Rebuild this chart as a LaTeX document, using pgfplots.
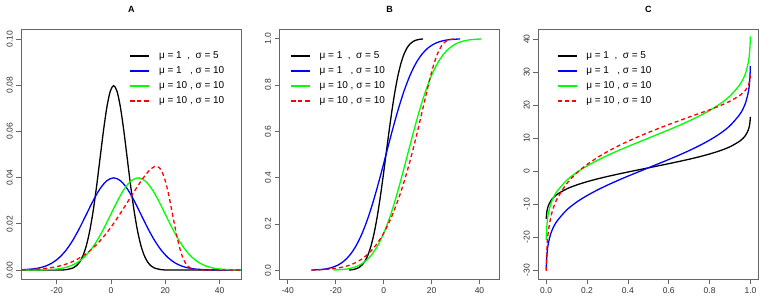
\documentclass[border=0pt]{standalone}
\usepackage{fontspec}
\setmainfont{Liberation Sans}
\usepackage{pgfplots}
\pgfplotsset{compat=1.18}
\definecolor{rgreen}{RGB}{0,255,0}
\definecolor{rblue}{RGB}{0,0,255}
\definecolor{rred}{RGB}{255,0,0}
\begin{document}
\begin{tikzpicture}
\path (0pt,0pt) rectangle (775pt,305pt);
\pgfplotsset{
  panel/.style={
    scale only axis, width=220pt, height=249.6pt,
    axis line style={black!60, line width=0.7pt},
    tick align=outside, major tick length=5pt,
    tick style={black!60, line width=0.7pt},
    xtick pos=bottom, ytick pos=left,
    tick label style={font=\fontsize{8.5}{10}\selectfont, text=black!80},
    /pgf/number format/assume math mode=true,
    yticklabel style={rotate=90, anchor=south},
    title style={at={(0.5,1)}, anchor=center, yshift=14pt, font=\bfseries\fontsize{9}{10}\selectfont},
    legend style={draw=none, fill=none, font=\fontsize{10}{12}\selectfont, legend cell align=left,
      anchor=north west, inner sep=0pt, row sep=3.5pt, nodes={inner sep=1pt, text height=7.5pt, text depth=2pt},
      /tikz/every odd column/.append style={column sep=8pt}},
    legend image code/.code={\draw[#1] plot coordinates {(0pt,0pt) (9.5pt,0pt) (19pt,0pt)};},
    legend image post style={line width=1.5pt},
    every axis plot/.append style={line width=1.3pt},
  },
}
% ---------------- A ----------------
\begin{axis}[panel, at={(21.3pt,25.7pt)}, anchor=south west, title={A},
  xmin=-33, xmax=48, ymin=-0.004, ymax=0.104,
  xtick={-20,0,20,40}, ytick={0,0.02,0.04,0.06,0.08,0.1},
  yticklabel style={/pgf/number format/fixed, /pgf/number format/fixed zerofill, /pgf/number format/precision=2},
  legend style={at={(axis description cs:0.491,0.918)}}]
\addplot[color=black, smooth] table {
-33 0
-24 0.000001
-19 0.000027
-16.5 0.000175
-14 0.000886
-12.75 0.001818
-11.5 0.003506
-10.25 0.006348
-9 0.010798
-7.75 0.017255
-6.5 0.025904
-5.25 0.036530
-4 0.048394
-2.75 0.060227
-1.5 0.070413
-0.25 0.077334
1 0.079788
2.25 0.077334
3.5 0.070413
4.75 0.060227
6 0.048394
7.25 0.036530
8.5 0.025904
9.75 0.017255
11 0.010798
12.25 0.006348
13.5 0.003506
14.75 0.001818
16 0.000886
18.5 0.000175
21 0.000027
26 0.000001
48 0
};
\addplot[color=rblue, smooth] table {
-33 0.000123
-29 0.000443
-26.5 0.000909
-24 0.001753
-21.5 0.003174
-19 0.005399
-16.5 0.008628
-14 0.012952
-11.5 0.018265
-9 0.024197
-6.5 0.030114
-4 0.035207
-1.5 0.038667
1 0.039894
3.5 0.038667
6 0.035207
8.5 0.030114
11 0.024197
13.5 0.018265
16 0.012952
18.5 0.008628
21 0.005399
23.5 0.003174
26 0.001753
28.5 0.000909
31 0.000443
36 0.000087
41 0.000013
48 0.000001
};
\addplot[color=rgreen, smooth] table {
-33 0.000004
-30 0.000013
-25 0.000087
-20 0.000443
-17.5 0.000909
-15 0.001753
-12.5 0.003174
-10 0.005399
-7.5 0.008628
-5 0.012952
-2.5 0.018265
0 0.024197
2.5 0.030114
5 0.035207
7.5 0.038667
10 0.039894
12.5 0.038667
15 0.035207
17.5 0.030114
20 0.024197
22.5 0.018265
25 0.012952
27.5 0.008628
30 0.005399
32.5 0.003174
35 0.001753
37.5 0.000909
40 0.000443
45 0.000087
48 0.000029
};
\addplot[color=rred, dash pattern=on 4pt off 3pt, smooth] table {
-35.24 0.000076
-32.03 0.000153
-28.82 0.000296
-25.61 0.000552
-22.40 0.000986
-19.19 0.001691
-15.97 0.002789
-12.76 0.004418
-9.55 0.006725
-7.95 0.008173
-6.34 0.009834
-4.73 0.011714
-3.13 0.013816
-1.52 0.016133
0.08 0.018650
1.69 0.021345
3.29 0.024188
4.90 0.027135
6.51 0.030139
8.11 0.033143
9.72 0.036082
11.32 0.038884
12.93 0.041449
14.53 0.043580
16.14 0.044827
16.94 0.044866
17.75 0.044331
18.55 0.043074
19.35 0.040979
20.15 0.038000
20.96 0.034188
21.76 0.029713
22.56 0.024845
23.37 0.019915
24.17 0.015255
24.97 0.011135
25.77 0.007728
26.58 0.005088
27.38 0.003173
28.18 0.001872
28.99 0.001044
29.79 0.000549
30.59 0.000272
32.20 0.000056
33.80 0.000009
40 0
48 0
};
\legend{{μ = 1\ \ ,\ \ σ = 5}, {μ = 1\ \ \ , σ = 10}, {μ = 10 , σ = 10}, {μ = 10 , σ = 10}}
\end{axis}
% ---------------- B ----------------
\begin{axis}[panel, at={(279.6pt,25.7pt)}, anchor=south west, title={B},
  xmin=-43.4, xmax=48.4, ymin=-0.039, ymax=1.039,
  xtick={-40,-20,0,20,40}, ytick={0,0.2,0.4,0.6,0.8,1},
  yticklabel style={/pgf/number format/fixed, /pgf/number format/fixed zerofill, /pgf/number format/precision=1},
  legend style={at={(axis description cs:0.047,0.918)}}]
\addplot[color=black, smooth] table {
-14.45 0.001
-12.75 0.00298
-11.5 0.00621
-10.25 0.01222
-9 0.02275
-7.75 0.04006
-6.5 0.06681
-5.25 0.10565
-4 0.15866
-2.75 0.22663
-1.5 0.30854
-0.25 0.40129
1 0.5
2.25 0.59871
3.5 0.69146
4.75 0.77337
6 0.84134
7.25 0.89435
8.5 0.93319
9.75 0.95994
11 0.97725
12.25 0.98778
13.5 0.99379
14.75 0.99702
16.45 0.999
};
\addplot[color=rblue, smooth] table {
-29.9 0.001
-26.5 0.00298
-24 0.00621
-21.5 0.01222
-19 0.02275
-16.5 0.04006
-14 0.06681
-11.5 0.10565
-9 0.15866
-6.5 0.22663
-4 0.30854
-1.5 0.40129
1 0.5
3.5 0.59871
6 0.69146
8.5 0.77337
11 0.84134
13.5 0.89435
16 0.93319
18.5 0.95994
21 0.97725
23.5 0.98778
26 0.99379
28.5 0.99702
31.9 0.999
};
\addplot[color=rgreen, smooth] table {
-20.9 0.001
-17.5 0.00298
-15 0.00621
-12.5 0.01222
-10 0.02275
-7.5 0.04006
-5 0.06681
-2.5 0.10565
0 0.15866
2.5 0.22663
5 0.30854
7.5 0.40129
10 0.5
12.5 0.59871
15 0.69146
17.5 0.77337
20 0.84134
22.5 0.89435
25 0.93319
27.5 0.95994
30 0.97725
32.5 0.98778
35 0.99379
37.5 0.99702
40.9 0.999
};
\addplot[color=rred, dash pattern=on 4pt off 3pt, smooth] table {
-30.27 0.001
-28.82 0.00137
-25.61 0.0027
-22.40 0.00511
-19.19 0.00932
-15.97 0.0164
-12.76 0.02781
-9.55 0.0455
-6.34 0.07186
-3.13 0.1096
0.08 0.16151
3.29 0.23014
6.51 0.31731
8.11 0.36812
9.72 0.42372
11.32 0.48391
12.93 0.54845
14.53 0.61681
16.14 0.68794
17.75 0.75983
19.35 0.82877
20.96 0.88956
22.56 0.93717
24.17 0.96922
25.77 0.98729
27.38 0.99565
28.99 0.99879
29.2 0.999
};
\legend{{μ = 1\ \ ,\ \ σ = 5}, {μ = 1\ \ \ , σ = 10}, {μ = 10 , σ = 10}, {μ = 10 , σ = 10}}
\end{axis}
% ---------------- C ----------------
\begin{axis}[panel, at={(538.3pt,25.7pt)}, anchor=south west, title={C},
  xmin=-0.038, xmax=1.038, ymin=-32.8, ymax=42.9,
  xtick={0,0.2,0.4,0.6,0.8,1}, ytick={-30,-20,-10,0,10,20,30,40},
  xticklabel style={/pgf/number format/fixed, /pgf/number format/fixed zerofill, /pgf/number format/precision=1},
  legend style={at={(axis description cs:0.083,0.918)}}]
\addplot[color=black, smooth] table {
0.001 -14.45
0.002 -13.39
0.005 -11.88
0.01 -10.63
0.025 -8.80
0.05 -7.22
0.1 -5.41
0.15 -4.18
0.2 -3.21
0.25 -2.37
0.3 -1.62
0.35 -0.93
0.4 -0.27
0.45 0.37
0.5 1
0.55 1.63
0.6 2.27
0.65 2.93
0.7 3.62
0.75 4.37
0.8 5.21
0.85 6.18
0.9 7.41
0.95 9.22
0.975 10.80
0.99 12.63
0.995 13.88
0.998 15.39
0.999 16.45
};
\addplot[color=rblue, smooth] table {
0.001 -29.90
0.002 -27.78
0.005 -24.76
0.01 -22.26
0.025 -18.60
0.05 -15.45
0.1 -11.82
0.15 -9.36
0.2 -7.42
0.25 -5.75
0.3 -4.24
0.35 -2.85
0.4 -1.53
0.45 -0.26
0.5 1
0.55 2.26
0.6 3.53
0.65 4.85
0.7 6.24
0.75 7.75
0.8 9.42
0.85 11.36
0.9 13.82
0.95 17.45
0.975 20.60
0.99 24.26
0.995 26.76
0.998 29.78
0.999 31.90
};
\addplot[color=rgreen, smooth] table {
0.001 -20.90
0.002 -18.78
0.005 -15.76
0.01 -13.26
0.025 -9.60
0.05 -6.45
0.1 -2.82
0.15 -0.36
0.2 1.58
0.25 3.25
0.3 4.76
0.35 6.15
0.4 7.47
0.45 8.74
0.5 10
0.55 11.26
0.6 12.53
0.65 13.85
0.7 15.24
0.75 16.75
0.8 18.42
0.85 20.36
0.9 22.82
0.95 26.45
0.975 29.60
0.99 33.26
0.995 35.76
0.998 38.78
0.999 40.90
};
\addplot[color=rred, dash pattern=on 4pt off 3pt, smooth] table {
0.001 -30.27
0.002 -27.05
0.005 -22.51
0.01 -18.80
0.025 -13.43
0.05 -8.91
0.1 -3.85
0.15 -0.56
0.2 1.99
0.25 4.09
0.3 5.92
0.35 7.56
0.4 9.05
0.45 10.42
0.5 11.72
0.55 12.96
0.6 14.14
0.65 15.28
0.7 16.41
0.75 17.53
0.8 18.61
0.85 19.83
0.9 21.24
0.95 23.08
0.975 24.55
0.99 26.13
0.995 27.17
0.998 28.36
0.999 29.2
};
\legend{{μ = 1\ \ ,\ \ σ = 5}, {μ = 1\ \ \ , σ = 10}, {μ = 10 , σ = 10}, {μ = 10 , σ = 10}}
\end{axis}
\end{tikzpicture}
\end{document}
